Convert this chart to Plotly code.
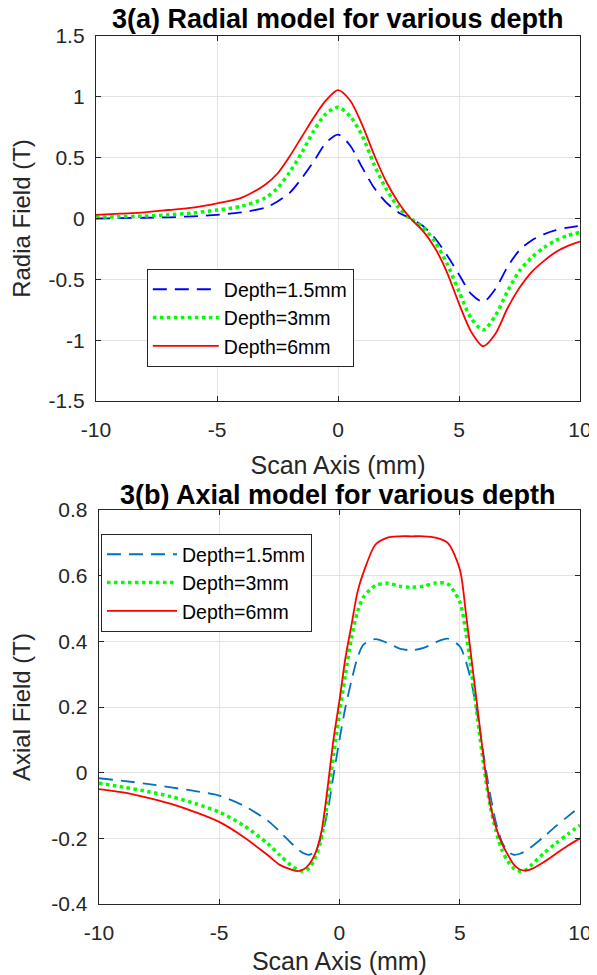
import plotly.graph_objects as go

# ---------------- data ----------------
x_radial = [-10, -9, -8, -7, -6, -5, -4, -3, -2.5, -2, -1.5, -1, -0.5, 0, 0.5, 1, 1.5, 2, 2.5, 3,
            3.5, 4, 4.5, 5, 5.5, 6, 6.5, 7, 7.5, 8, 8.5, 9, 9.5, 10]
radial_d15 = [0.0, 0.003, 0.006, 0.01, 0.018, 0.03, 0.05, 0.09, 0.14, 0.21, 0.33, 0.47, 0.62, 0.69, 0.60,
              0.42, 0.25, 0.13, 0.05, 0.0, -0.06, -0.16, -0.30, -0.46, -0.62, -0.685, -0.58, -0.40, -0.26,
              -0.18, -0.13, -0.095, -0.075, -0.06]
radial_d3 = [0.01, 0.015, 0.02, 0.03, 0.045, 0.07, 0.10, 0.17, 0.25, 0.38, 0.54, 0.72, 0.86, 0.915, 0.84,
             0.68, 0.44, 0.24, 0.09, 0.0, -0.07, -0.19, -0.37, -0.60, -0.82, -0.915, -0.80, -0.60, -0.43,
             -0.32, -0.24, -0.18, -0.14, -0.114]
radial_d6 = [0.03, 0.04, 0.05, 0.07, 0.09, 0.125, 0.17, 0.28, 0.37, 0.51, 0.67, 0.83, 0.97, 1.055, 0.97,
             0.77, 0.52, 0.30, 0.13, 0.0, -0.10, -0.24, -0.44, -0.70, -0.93, -1.05, -0.95, -0.74, -0.57,
             -0.44, -0.35, -0.275, -0.225, -0.19]

x_axial = [-10, -9, -8, -7, -6, -5, -4, -3, -2.5, -2, -1.75, -1.5, -1.25, -1, -0.75, -0.5, -0.25,
           0, 0.25, 0.5, 0.75, 1, 1.5, 2, 2.5, 3, 3.5, 4, 4.5, 5, 5.25, 5.5, 5.75, 6, 6.25, 6.5, 6.75, 7,
           7.25, 7.5, 7.75, 8, 8.5, 9, 9.5, 10]
axial_d15 = [-0.017, -0.025, -0.034, -0.045, -0.056, -0.07, -0.10, -0.145, -0.178, -0.215, -0.232, -0.245,
             -0.25, -0.238, -0.195, -0.12, -0.01, 0.10, 0.20, 0.28, 0.35, 0.39, 0.407, 0.395, 0.378, 0.373,
             0.38, 0.397, 0.408, 0.385, 0.34, 0.27, 0.17, 0.05, -0.06, -0.15, -0.21, -0.24, -0.25, -0.247,
             -0.238, -0.225, -0.195, -0.163, -0.133, -0.104]
axial_d3 = [-0.032, -0.044, -0.057, -0.073, -0.094, -0.12, -0.16, -0.215, -0.25, -0.283, -0.295, -0.30,
            -0.29, -0.258, -0.20, -0.09, 0.05, 0.18, 0.30, 0.41, 0.49, 0.535, 0.57, 0.577, 0.568, 0.565,
            0.568, 0.578, 0.575, 0.52, 0.43, 0.30, 0.16, 0.02, -0.095, -0.175, -0.235, -0.27, -0.292, -0.30,
            -0.296, -0.28, -0.245, -0.215, -0.187, -0.16]
axial_d6 = [-0.05, -0.06, -0.076, -0.095, -0.12, -0.15, -0.195, -0.25, -0.28, -0.295, -0.30, -0.295,
            -0.278, -0.245, -0.18, -0.05, 0.10, 0.22, 0.35, 0.45, 0.55, 0.61, 0.695, 0.716, 0.72, 0.72, 0.72,
            0.716, 0.70, 0.62, 0.49, 0.34, 0.19, 0.04, -0.09, -0.165, -0.215, -0.25, -0.28, -0.295, -0.298,
            -0.293, -0.272, -0.247, -0.222, -0.20]

series_names = ["Depth=1.5mm", "Depth=3mm", "Depth=6mm"]

x_tickvals = [-10, -5, 0, 5, 10]
x_ticktext = ["-10", "-5", "0", "5", "10"]
y1_tickvals = [-1.5, -1, -0.5, 0, 0.5, 1, 1.5]
y1_ticktext = ["-1.5", "-1", "-0.5", "0", "0.5", "1", "1.5"]
y2_tickvals = [-0.4, -0.2, 0, 0.2, 0.4, 0.6, 0.8]
y2_ticktext = ["-0.4", "-0.2", "0", "0.2", "0.4", "0.6", "0.8"]

# ---------------- figure ----------------
FONT = "Liberation Sans, Arial, sans-serif"
AX = "#262626"

fig = go.Figure()

styles_top = [dict(color="#0000FF", width=1.8, dash="14px,8px"),
              dict(color="#00FF00", width=3.5, dash="dot"),
              dict(color="#FF0000", width=1.8, dash="solid")]
styles_bot = [dict(color="#0072BD", width=1.8, dash="14px,8px"),
              dict(color="#00FF00", width=3.5, dash="dot"),
              dict(color="#FF0000", width=1.8, dash="solid")]

for name, ys, st in zip(series_names, [radial_d15, radial_d3, radial_d6], styles_top):
    fig.add_trace(go.Scatter(x=x_radial, y=ys, name=name, mode="lines",
                             line=dict(shape="spline", smoothing=0.8, **st),
                             xaxis="x", yaxis="y", legend="legend"))
for name, ys, st in zip(series_names, [axial_d15, axial_d3, axial_d6], styles_bot):
    fig.add_trace(go.Scatter(x=x_axial, y=ys, name=name, mode="lines",
                             line=dict(shape="spline", smoothing=0.8, **st),
                             xaxis="x2", yaxis="y2", legend="legend2"))


def axis(**kw):
    d = dict(ticks="inside", ticklen=5, tickcolor=AX, showline=True, linecolor=AX, linewidth=1.4,
             mirror="ticks", showgrid=True, gridcolor="#e3e3e3", gridwidth=1, zeroline=False,
             tickfont=dict(size=21, color=AX, family=FONT), tickmode="array", automargin=False)
    d.update(kw)
    return d


XT = dict(text="Scan Axis (mm)", font=dict(size=25, color=AX), standoff=16)
LEGFONT = dict(size=19.5, color="black", family=FONT)

fig.update_layout(
    width=589, height=967,
    margin=dict(l=88, r=17, t=28, b=71),
    paper_bgcolor="white", plot_bgcolor="white",
    font=dict(family=FONT, color=AX),
    xaxis=axis(domain=[0, 1], range=[-10, 10], anchor="y", tickvals=x_tickvals, ticktext=x_ticktext,
               ticklabelstandoff=10, title=XT),
    yaxis=axis(domain=[0.5795, 1], range=[-1.5, 1.5], anchor="x", tickvals=y1_tickvals,
               ticktext=y1_ticktext, ticklabelstandoff=6,
               title=dict(text="Radia Field (T)", font=dict(size=24, color=AX), standoff=19)),
    xaxis2=axis(domain=[0.006, 1], range=[-10, 10], anchor="y2", tickvals=x_tickvals, ticktext=x_ticktext,
                ticklabelstandoff=10, title=XT),
    yaxis2=axis(domain=[0, 0.4539], range=[-0.4, 0.8], anchor="x2", tickvals=y2_tickvals,
                ticktext=y2_ticktext, ticklabelstandoff=6,
                title=dict(text="Axial Field (T)", font=dict(size=24, color=AX), standoff=19)),
    legend=dict(x=0.105, y=0.7315, xanchor="left", yanchor="top", bgcolor="white",
                bordercolor=AX, borderwidth=1, font=LEGFONT, itemwidth=66, tracegroupgap=0),
    legend2=dict(x=0.0103, y=0.4262, xanchor="left", yanchor="top", bgcolor="white",
                 bordercolor=AX, borderwidth=1, font=LEGFONT, itemwidth=70, tracegroupgap=0),
    annotations=[
        dict(text="<b>3(a) Radial model for various depth</b>", xref="paper", yref="paper",
             x=0.5, y=1.0195, xanchor="center", yanchor="middle", showarrow=False,
             font=dict(size=27, color="black", family=FONT)),
        dict(text="<b>3(b) Axial model for various depth</b>", xref="paper", yref="paper",
             x=0.5, y=0.4712, xanchor="center", yanchor="middle", showarrow=False,
             font=dict(size=27, color="black", family=FONT)),
    ],
)

fig.write_html("out.html")
